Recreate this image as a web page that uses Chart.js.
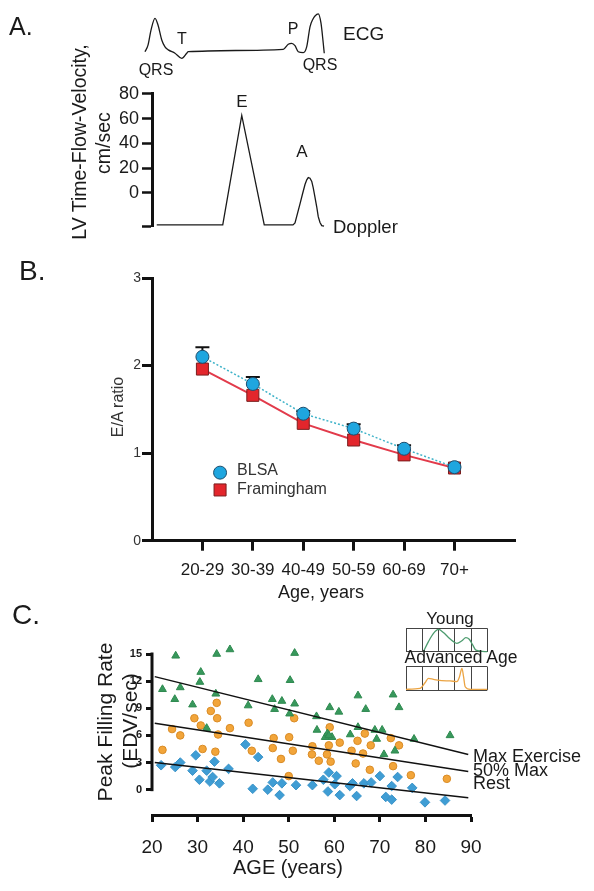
<!DOCTYPE html>
<html lang="en">
<head>
<meta charset="UTF-8">
<title>LV filling and age</title>
<script src="https://cdn.jsdelivr.net/npm/chart.js@4.4.0/dist/chart.umd.min.js"></script>
<style>
  body { margin: 0; background: #fff; }
  #page { position: relative; width: 594px; height: 891px; overflow: hidden;
          font-family: "Liberation Sans", Arial, sans-serif; color: #1a1a1a; }
  canvas { position: absolute; left: 0; }
  .lbl { position: absolute; white-space: nowrap; line-height: 1; transform: translate(-50%, -50%); }
  .lft { position: absolute; white-space: nowrap; line-height: 1; transform: translate(0, -50%); }
  .rot { position: absolute; white-space: nowrap; line-height: 1; transform: translate(-50%, -50%) rotate(-90deg); }
</style>
</head>
<body>
<div id="page">
  <canvas id="ecg" width="594" height="80" style="top:0"></canvas>
  <canvas id="doppler" width="594" height="160" style="top:80px"></canvas>
  <canvas id="ratio" width="594" height="360" style="top:250px"></canvas>
  <canvas id="pfr" width="594" height="261" style="top:630px"></canvas>
  <canvas id="young" width="100" height="40" style="left:398px;top:620px"></canvas>
  <canvas id="old" width="100" height="40" style="left:398px;top:659px"></canvas>

  <!-- panel A text -->
  <div class="lft" style="left:9px;top:26px;font-size:25px">A.</div>
  <div class="lbl" style="left:156px;top:70px;font-size:16px">QRS</div>
  <div class="lbl" style="left:182px;top:39px;font-size:16px">T</div>
  <div class="lbl" style="left:293px;top:29px;font-size:16px">P</div>
  <div class="lbl" style="left:320px;top:65px;font-size:16px">QRS</div>
  <div class="lft" style="left:343px;top:33px;font-size:19px">ECG</div>
  <div class="lbl" style="left:242px;top:101px;font-size:17px">E</div>
  <div class="lbl" style="left:302px;top:151px;font-size:17px">A</div>
  <div class="lft" style="left:333px;top:227px;font-size:18.5px">Doppler</div>
  <div class="rot" style="left:80px;top:142px;font-size:19.5px">LV Time-Flow-Velocity,</div>
  <div class="rot" style="left:104px;top:143px;font-size:19.5px">cm/sec</div>

  <!-- panel B text -->
  <div class="lft" style="left:19px;top:271px;font-size:28px">B.</div>
  <div class="rot" style="left:118px;top:407px;font-size:16px;color:#333">E/A ratio</div>
  <div class="lbl" style="left:321px;top:592px;font-size:18px">Age, years</div>

  <!-- panel C text -->
  <div class="lft" style="left:12px;top:615px;font-size:28px">C.</div>
  <div class="rot" style="left:104px;top:722px;font-size:21px">Peak Filling Rate</div>
  <div class="rot" style="left:129px;top:721px;font-size:21px">(EDV/sec)</div>
  <div class="lbl" style="left:288px;top:867px;font-size:20px">AGE (years)</div>
  <div class="lft" style="left:473px;top:756px;font-size:18px">Max Exercise</div>
  <div class="lft" style="left:473px;top:770px;font-size:18px">50% Max</div>
  <div class="lft" style="left:473px;top:783px;font-size:18px">Rest</div>
  <div class="lbl" style="left:450px;top:618px;font-size:17px">Young</div>
  <div class="lbl" style="left:461px;top:658px;font-size:17.5px">Advanced Age</div>
</div>

<script>
// ---- Panel A: one cardiac cycle (time in ms) ----
const ecgTime = [20, 32, 44, 60, 72, 87, 100, 113, 140, 167, 187, 193, 573, 593, 607, 620, 633, 653, 667, 680, 692, 700, 713, 724, 733, 737];
const ecgMv = [0.01, 0.23, 0.73, 1.12, 0.9, 0.4, 0.17, 0.07, -0.04, -0.21, -0.04, 0.01, 0.09, 0.26, 0.29, 0.21, 0.01, -0.02, 0.18, 0.84, 1.1, 1.2, 1.27, 0.96, 0.29, -0.04];
const dopplerTime = [67, 331, 407, 497, 612, 620, 640, 650, 660, 667, 673, 680, 687, 693, 700, 707, 713, 720, 727, 736];
const dopplerVel = [-26, -26, 62.5, -26, -26, -24.4, -8.9, -1, 6.7, 10.5, 12.3, 11.8, 9.2, 4, -3.7, -11.5, -19.3, -24, -26.5, -27];
const dopplerTicks = [80, 60, 40, 20, 0];

// ---- Panel B: E/A ratio by age group ----
const ageGroups = ['20-29', '30-39', '40-49', '50-59', '60-69', '70+'];
const blsaRatio = [2.10, 1.79, 1.45, 1.28, 1.05, 0.84];
const blsaErr = [0.11, 0.08, 0.03, 0.05, 0.04, 0];
const framinghamRatio = [1.96, 1.66, 1.34, 1.15, 0.98, 0.83];

// ---- Panel C: peak filling rate vs age ----
const maxExAge = [22.3, 25.2, 25.0, 26.2, 28.9, 30.7, 30.5, 32.0, 34.2, 34.0, 37.1, 41.1, 43.3, 46.4, 46.9, 48.5, 51.3, 50.3, 51.3, 50.2, 56.1, 59.0, 61.0, 56.2, 58.0, 58.5, 59.5, 58.8, 65.2, 66.9, 63.5, 65.2, 68.9, 69.3, 70.5, 72.9, 74.2, 70.9, 73.3, 77.5, 85.4];
const maxExRate = [11.1, 14.8, 10.0, 11.3, 9.4, 13.0, 11.9, 6.8, 15.0, 10.6, 15.5, 9.3, 12.2, 10.0, 8.9, 9.8, 15.1, 12.1, 9.5, 8.4, 8.1, 9.1, 8.6, 6.6, 5.8, 6.2, 5.8, 6.0, 10.4, 8.9, 6.1, 6.9, 6.6, 5.6, 6.6, 10.5, 9.1, 3.9, 4.3, 5.6, 6.0];
const halfMaxAge = [22.3, 24.4, 26.2, 29.3, 30.7, 31.1, 32.9, 34.2, 34.3, 34.5, 33.9, 37.1, 41.2, 41.9, 46.5, 46.7, 48.3, 50.1, 50.9, 50.0, 51.2, 55.2, 55.1, 56.6, 58.4, 59.0, 58.8, 59.2, 61.2, 64.7, 63.8, 65.1, 66.3, 66.7, 68.0, 67.8, 72.4, 74.2, 72.9, 76.8, 84.7];
const halfMaxRate = [4.4, 6.7, 6.0, 7.9, 7.1, 4.5, 8.7, 9.6, 7.9, 6.1, 4.2, 6.8, 7.4, 4.3, 4.6, 5.7, 3.4, 5.8, 4.3, 1.5, 7.9, 4.8, 3.9, 3.2, 3.9, 6.9, 4.9, 3.1, 5.2, 2.9, 4.3, 5.4, 4.0, 6.2, 4.9, 2.2, 5.7, 4.9, 2.6, 1.6, 1.2];
const restAge = [22.0, 25.1, 26.2, 28.9, 29.6, 30.4, 32.0, 32.7, 33.3, 33.7, 34.8, 36.8, 40.5, 42.1, 43.3, 45.4, 46.5, 48.5, 48.0, 51.6, 55.2, 57.6, 58.8, 58.6, 60.5, 61.2, 60.1, 63.4, 64.0, 64.9, 66.5, 68.1, 70.0, 73.9, 72.6, 71.3, 72.6, 77.1, 79.9, 84.3];
const restRate = [2.7, 2.5, 3.0, 2.1, 3.8, 1.1, 2.1, 0.9, 1.4, 3.1, 0.7, 2.3, 5.0, 0.1, 3.6, 0.0, 0.8, 0.7, -0.6, 0.5, 0.5, 1.1, 1.9, -0.2, 1.5, -0.6, 0.6, 0.4, 0.7, -0.7, 0.7, 0.8, 1.5, 1.4, 0.4, -0.8, -1.1, 0.2, -1.4, -1.2];
const fitAge = [20.6, 89.4];
const fitMaxEx = [12.5, 3.9];
const fitHalfMax = [7.35, 2.0];
const fitRest = [3.0, -0.9];
const pfrTicks = [0, 3, 6, 9, 12, 15];

// ---- Panel C inset: filling pattern (time in grid divisions, flow normalised) ----
const youngT = [1.07, 1.38, 1.69, 2.0, 2.3, 2.61, 2.92, 3.13, 3.44, 3.68, 3.89, 4.1, 4.3, 5.0];
const youngFlow = [0, 0.43, 0.78, 0.95, 0.82, 0.61, 0.43, 0.36, 0.47, 0.6, 0.53, 0.29, 0.07, 0];
const oldT = [0, 0.86, 1.17, 1.38, 1.69, 2.2, 2.71, 3.13, 3.29, 3.44, 3.54, 3.64, 3.95, 5];
const oldFlow = [0.03, 0.07, 0.31, 0.5, 0.46, 0.4, 0.39, 0.36, 0.57, 0.93, 0.57, 0.14, 0.03, 0.03];

const FONT = '"Liberation Sans", Arial, sans-serif';
Chart.defaults.font.family = FONT;
Chart.defaults.color = '#1a1a1a';
Chart.defaults.animation = false;
Chart.defaults.events = [];
Chart.defaults.plugins.legend.display = false;
Chart.defaults.plugins.tooltip.enabled = false;

function pts(xs, ys) { return xs.map((x, i) => ({ x: x, y: ys[i] })); }
function fixWidth(w) { return s => { s.width = w; }; }
function fixHeight(h) { return s => { s.height = h; }; }

// y axis line that stops at given values (panel C)
const partialYAxis = {
  id: 'partialYAxis',
  afterDraw(chart, args, opts) {
    const ys = chart.scales.y, ctx = chart.ctx, x = chart.chartArea.left;
    ctx.save();
    ctx.strokeStyle = '#111';
    ctx.lineWidth = 3;
    ctx.beginPath();
    ctx.moveTo(x, ys.getPixelForValue(opts.to) - 1.5);
    ctx.lineTo(x, ys.getPixelForValue(opts.from) + 1.5);
    ctx.stroke();
    ctx.restore();
  }
};

// upper error bars
const errorBars = {
  id: 'errorBars',
  beforeDatasetsDraw(chart, args, opts) {
    const meta = chart.getDatasetMeta(opts.dataset);
    const ys = chart.scales.y, ctx = chart.ctx;
    const data = chart.data.datasets[opts.dataset].data;
    ctx.save();
    ctx.strokeStyle = '#111';
    ctx.lineWidth = 2;
    meta.data.forEach((pt, i) => {
      const e = opts.errors[i];
      if (!e) return;
      const top = ys.getPixelForValue(data[i].y + e);
      ctx.beginPath();
      ctx.moveTo(pt.x, pt.y);
      ctx.lineTo(pt.x, top);
      ctx.moveTo(pt.x - 7, top);
      ctx.lineTo(pt.x + 7, top);
      ctx.stroke();
    });
    ctx.restore();
  }
};

// legend inside the plot (panel B)
const innerLegend = {
  id: 'innerLegend',
  afterDatasetsDraw(chart, args, opts) {
    const { ctx, scales } = chart;
    const px = scales.x.getPixelForValue(opts.x);
    const py0 = scales.y.getPixelForValue(opts.y);
    ctx.save();
    ctx.font = '16px ' + FONT;
    ctx.textBaseline = 'middle';
    opts.items.forEach((idx, row) => {
      const ds = chart.data.datasets[idx];
      const py = py0 + row * opts.rowGap;
      ctx.fillStyle = ds.pointBackgroundColor;
      ctx.strokeStyle = ds.pointBorderColor;
      ctx.lineWidth = 1;
      ctx.beginPath();
      if (ds.pointStyle === 'rect') {
        const s = ds.pointRadius * Math.SQRT1_2;
        ctx.rect(px - s, py - s, 2 * s, 2 * s);
      } else {
        ctx.arc(px, py + 2, ds.pointRadius, 0, Math.PI * 2);
      }
      ctx.fill();
      ctx.stroke();
      ctx.fillStyle = '#333';
      ctx.fillText(ds.label, px + 17, py);
    });
    ctx.restore();
  }
};

// ---- Panel A: ECG ----
new Chart(document.getElementById('ecg'), {
  type: 'line',
  data: {
    datasets: [{
      data: pts(ecgTime, ecgMv),
      borderColor: '#1a1a1a', borderWidth: 1.3,
      pointRadius: 0, cubicInterpolationMode: 'monotone', clip: false
    }]
  },
  options: {
    responsive: false,
    layout: { padding: { left: 140, right: 154, top: 10, bottom: 19 } },
    scales: {
      x: { type: 'linear', min: 0, max: 1200, display: false },
      y: { min: -0.3, max: 1.4, display: false }
    }
  }
});

// ---- Panel A: Doppler ----
new Chart(document.getElementById('doppler'), {
  type: 'line',
  data: {
    datasets: [{
      data: pts(dopplerTime, dopplerVel),
      borderColor: '#1a1a1a', borderWidth: 1.3,
      pointRadius: 0, tension: 0, clip: false
    }]
  },
  options: {
    responsive: false,
    layout: { padding: { left: 92, right: 154, top: 9, bottom: 13.4 } },
    scales: {
      x: { type: 'linear', min: 48, max: 1200, display: false },
      y: {
        min: -27, max: 80,
        afterFit: fixWidth(60),
        afterBuildTicks: s => { s.ticks = dopplerTicks.concat([-27]).map(v => ({ value: v })); },
        ticks: { font: { size: 18 }, color: '#1a1a1a', padding: 3,
                 callback: v => (dopplerTicks.includes(v) ? String(v) : '') },
        grid: { drawOnChartArea: false, tickLength: 10, tickWidth: 2.5, tickColor: '#111' },
        border: { color: '#111', width: 3 }
      }
    }
  }
});

// ---- Panel B: E/A ratio ----
new Chart(document.getElementById('ratio'), {
  type: 'line',
  data: {
    datasets: [
      {
        label: 'BLSA',
        data: pts(ageGroups.map((g, i) => i + 1), blsaRatio),
        borderColor: '#3fb3c9', borderWidth: 1.5, borderDash: [2, 2],
        pointStyle: 'circle', pointRadius: 6.5,
        pointBackgroundColor: '#1fa6df', pointBorderColor: '#1d4d6c', pointBorderWidth: 1,
        order: 0
      },
      {
        label: 'Framingham',
        data: pts(ageGroups.map((g, i) => i + 1), framinghamRatio),
        borderColor: '#e23b4b', borderWidth: 2,
        pointStyle: 'rect', pointRadius: 8.5,
        pointBackgroundColor: '#e3262c', pointBorderColor: '#7a1e1e', pointBorderWidth: 1,
        order: 1
      }
    ]
  },
  options: {
    responsive: false,
    layout: { padding: { left: 102, right: 79, top: 28, bottom: 24.3 } },
    scales: {
      x: {
        type: 'linear', min: 0, max: 7.2,
        afterFit: fixHeight(45),
        afterBuildTicks: s => { s.ticks = ageGroups.map((g, i) => ({ value: i + 1 })); },
        ticks: { font: { size: 17 }, color: '#1a1a1a', padding: 9.6, autoSkip: false, maxRotation: 0,
                 callback: v => ageGroups[v - 1] || '' },
        grid: { drawOnChartArea: false, tickLength: 10, tickWidth: 3, tickColor: '#111' },
        border: { color: '#111', width: 3 }
      },
      y: {
        min: 0, max: 3,
        afterFit: fixWidth(50),
        ticks: { stepSize: 1, font: { size: 14 }, color: '#333', padding: 1 },
        grid: { drawOnChartArea: false, tickLength: 10, tickWidth: 3, tickColor: '#111' },
        border: { color: '#111', width: 3 }
      }
    },
    plugins: {
      errorBars: { dataset: 0, errors: blsaErr },
      innerLegend: { x: 1.35, y: 0.80, rowGap: 19.3, items: [0, 1] }
    }
  },
  plugins: [errorBars, innerLegend]
});

// ---- Panel C: peak filling rate ----
const fitLine = { showLine: true, borderColor: '#111', borderWidth: 1.5, pointRadius: 0, order: 0, clip: false };
new Chart(document.getElementById('pfr'), {
  type: 'scatter',
  data: {
    datasets: [
      { label: 'Max Exercise', data: pts(maxExAge, maxExRate), pointStyle: 'triangle', pointRadius: 4.5,
        backgroundColor: '#38985c', borderColor: '#2f8a50', borderWidth: 1, order: 1, clip: false },
      { label: '50% Max', data: pts(halfMaxAge, halfMaxRate), pointStyle: 'circle', pointRadius: 3.8,
        backgroundColor: '#f2a53a', borderColor: '#d98b25', borderWidth: 1, order: 1, clip: false },
      { label: 'Rest', data: pts(restAge, restRate), pointStyle: 'rectRot', pointRadius: 4.8,
        backgroundColor: '#3f9dd4', borderColor: '#3a93c8', borderWidth: 1, order: 1, clip: false },
      Object.assign({ data: pts(fitAge, fitMaxEx) }, fitLine),
      Object.assign({ data: pts(fitAge, fitHalfMax) }, fitLine),
      Object.assign({ data: pts(fitAge, fitRest) }, fitLine)
    ]
  },
  options: {
    responsive: false,
    layout: { padding: { left: 112, right: 123, top: 24, bottom: 26 } },
    scales: {
      x: {
        min: 20, max: 90,
        afterFit: fixHeight(50),
        ticks: { stepSize: 10, font: { size: 19 }, color: '#1a1a1a', padding: 14.6, maxRotation: 0 },
        grid: { drawOnChartArea: false, tickLength: 7, tickWidth: 3, tickColor: '#111' },
        border: { color: '#111', width: 3 }
      },
      y: {
        min: -2.8, max: 15,
        afterFit: fixWidth(40),
        afterBuildTicks: s => { s.ticks = pfrTicks.map(v => ({ value: v })); },
        ticks: { font: { size: 11, weight: 'bold' }, color: '#1a1a1a', padding: 4 },
        grid: { drawOnChartArea: false, tickLength: 6, tickWidth: 3, tickColor: '#111' },
        border: { display: false }
      }
    },
    plugins: { partialYAxis: { from: 0, to: 15 } }
  },
  plugins: [partialYAxis]
});

// ---- Panel C inset: filling curves ----
function insetChart(id, xs, ys, color, pad) {
  new Chart(document.getElementById(id), {
    type: 'line',
    data: {
      datasets: [{
        data: pts(xs, ys), borderColor: color, borderWidth: 1.3,
        pointRadius: 0, cubicInterpolationMode: 'monotone', clip: false
      }]
    },
    options: {
      responsive: false,
      layout: { padding: pad },
      scales: {
        x: { type: 'linear', min: 0, max: 5,
             ticks: { display: false, stepSize: 1 },
             grid: { color: '#444', lineWidth: 1, drawTicks: false },
             border: { display: false } },
        y: { min: 0, max: 1,
             ticks: { display: false, stepSize: 1 },
             grid: { color: '#444', lineWidth: 1, drawTicks: false },
             border: { display: false } }
      }
    }
  });
}
insetChart('young', youngT, youngFlow, '#4c9b6e', { left: 8, right: 10.7, top: 8.3, bottom: 8.3 });
insetChart('old', oldT, oldFlow, '#eba443', { left: 8, right: 10.7, top: 7.7, bottom: 9 });
</script>
</body>
</html>
